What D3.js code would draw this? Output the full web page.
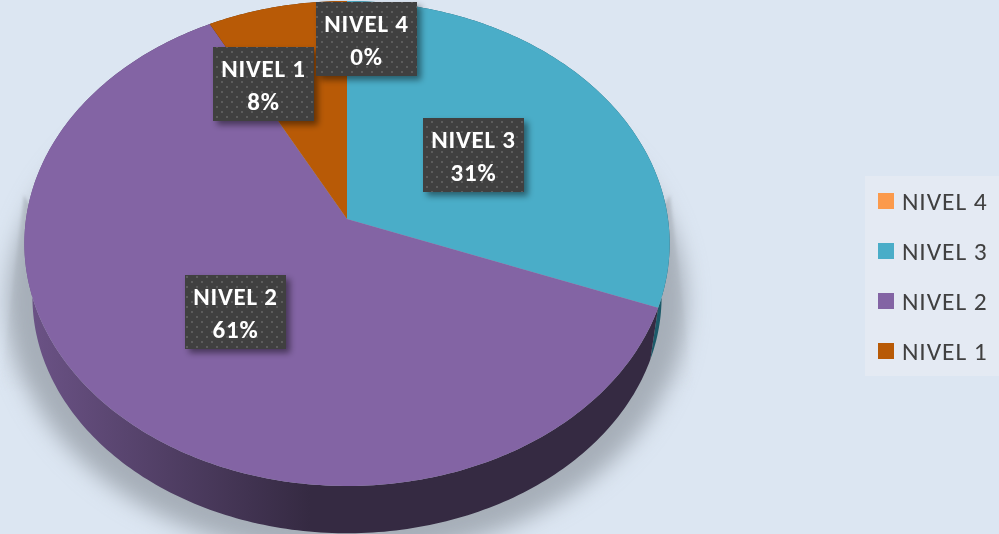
<!DOCTYPE html>
<html><head><meta charset="utf-8">
<script src="https://cdn.jsdelivr.net/npm/d3@7"></script>
<style>html,body{margin:0;padding:0;background:#dce6f2;overflow:hidden}svg{display:block}text{font-family:Carlito,Lato,sans-serif}</style>
</head><body><div id="c"></div>
<script>
const categories = ["NIVEL 1","NIVEL 2","NIVEL 3","NIVEL 4"];
const values = [7.71,61.49,30.8,0];
const legendOrder = ["NIVEL 4","NIVEL 3","NIVEL 2","NIVEL 1"];
const colors = ["#b85a06","#8364a4","#4aadc8","#fb9a4c"];
const wallColors = ["#5e3208","#352a42","#1c5a69","#8a5020"];
const labelAnchors = [[263.5,84],[235.5,312],[473.5,155],[366.5,39]];

const W=999,H=534;
const svg=d3.select("#c").append("svg").attr("width",W).attr("height",H);
const defs=svg.append("defs");
svg.append("rect").attr("width",W).attr("height",H).attr("fill","#dce6f2");

const color=d3.scaleOrdinal(categories,colors);
const wall=d3.scaleOrdinal(categories,wallColors);
const total=d3.sum(values);
const pie=d3.pie().value(d=>d.v).sort(null);
const arcs=pie(categories.map((c,i)=>({c,v:values[i]})).reverse());

const cx=347,cy=219,rx=321,ry=240,k=-0.101;
function proj(a,r=1,s=1,dy=0){
  const u=Math.sin(a)*r,v=-Math.cos(a)*r,w=1+k*v;
  return [cx+s*rx*u/w, cy+dy+s*ry*v/w];
}
const line=d3.line();
const samples=(a0,a1,f)=>{const n=Math.max(2,Math.ceil(Math.abs(a1-a0)*60));
  return d3.range(n+1).map(i=>f(a0+(a1-a0)*i/n));};

// shadow
const fs=defs.append("filter").attr("id","blur").attr("x","-20%").attr("y","-20%").attr("width","140%").attr("height","140%");
fs.append("feGaussianBlur").attr("stdDeviation",11);
const fw=defs.append("filter").attr("id","blur2").attr("x","-50%").attr("y","-20%").attr("width","200%").attr("height","140%");
fw.append("feGaussianBlur").attr("stdDeviation",1.5);
const sh=svg.append("g");
const lg=defs.append("linearGradient").attr("id","wedgeL").attr("gradientUnits","userSpaceOnUse").attr("x1",0).attr("x2",36).attr("y1",0).attr("y2",0);
lg.append("stop").attr("offset",0).attr("stop-color","#d4dde7").attr("stop-opacity",.5);
lg.append("stop").attr("offset",1).attr("stop-color","#a9b1ba");
const rg=defs.append("linearGradient").attr("id","wedgeR").attr("gradientUnits","userSpaceOnUse").attr("x1",692).attr("x2",658).attr("y1",0).attr("y2",0);
rg.append("stop").attr("offset",0).attr("stop-color","#d4dde7").attr("stop-opacity",.5);
rg.append("stop").attr("offset",1).attr("stop-color","#a9b1ba");
const mg=defs.append("linearGradient").attr("id","wedgeFade").attr("gradientUnits","userSpaceOnUse").attr("x1",0).attr("x2",0).attr("y1",300).attr("y2",392);
mg.append("stop").attr("offset",0).attr("stop-color","#fff");
mg.append("stop").attr("offset",1).attr("stop-color","#000");
const mask=defs.append("mask").attr("id","wedgeMask").attr("maskUnits","userSpaceOnUse").attr("x",0).attr("y",0).attr("width",W).attr("height",H);
mask.append("rect").attr("width",W).attr("height",H).attr("fill","url(#wedgeFade)");
const wedges=sh.append("g").attr("mask","url(#wedgeMask)");
wedges.append("path").attr("d","M24,195L0,392L50,400L60,260Z").attr("fill","url(#wedgeL)").attr("filter","url(#blur2)");
wedges.append("path").attr("d","M670,195L693,392L640,400L630,260Z").attr("fill","url(#wedgeR)").attr("filter","url(#blur2)");
sh.append("path").attr("d",line(samples(0,2*Math.PI,a=>proj(a,1,1.05,58)))+"Z").attr("fill","#a6aeb8").attr("filter","url(#blur)");

const wg=defs.append("linearGradient").attr("id","wallPurple").attr("gradientUnits","userSpaceOnUse")
  .attr("x1",25).attr("x2",310).attr("y1",0).attr("y2",0);
wg.append("stop").attr("offset",0).attr("stop-color","#6c5387");
wg.append("stop").attr("offset",1).attr("stop-color","#352a42");

const S=0.975,DY=54;
const g=svg.append("g");
arcs.filter(d=>d.value>0).forEach(d=>{
  const a0=d.startAngle,a1=d.endAngle;
  const top=samples(a0,a1,a=>proj(a));
  const bot=samples(a1,a0,a=>proj(a,1,S,DY));
  g.append("path").attr("d",line(top.concat(bot))+"Z")
   .attr("fill",d.data.c==="NIVEL 2"?"url(#wallPurple)":wall(d.data.c));
});
arcs.filter(d=>d.value>0).forEach(d=>{
  const pts=[[cx,cy]].concat(samples(d.startAngle,d.endAngle,a=>proj(a)));
  g.append("path").attr("d",line(pts)+"Z").attr("fill",color(d.data.c));
});

const pat=defs.append("pattern").attr("id","dots").attr("width",10).attr("height",10).attr("patternUnits","userSpaceOnUse");
pat.append("rect").attr("width",10).attr("height",10).attr("fill","#404040");
[[1,1],[6,6]].forEach(p=>pat.append("rect").attr("x",p[0]).attr("y",p[1]).attr("width",2).attr("height",2).attr("fill","#5c5c5c"));
const fl=defs.append("filter").attr("id","ds").attr("x","-20%").attr("y","-20%").attr("width","150%").attr("height","150%");
fl.append("feDropShadow").attr("dx",4).attr("dy",4).attr("stdDeviation",3).attr("flood-color","#000").attr("flood-opacity",.45);
const bw=101,bh=74;
categories.forEach((c,i)=>{
  const [x,y]=labelAnchors[i];
  const l=svg.append("g");
  l.append("rect").attr("x",x-bw/2).attr("y",y-bh/2).attr("width",bw).attr("height",bh).attr("fill","url(#dots)").attr("filter","url(#ds)");
  l.append("text").attr("x",x).attr("y",y-7).attr("text-anchor","middle").attr("font-weight",700).attr("font-size",25).attr("letter-spacing",.8).attr("fill","#fff").text(c);
  l.append("text").attr("x",x).attr("y",y+26).attr("text-anchor","middle").attr("font-weight",700).attr("font-size",25).attr("letter-spacing",.8).attr("fill","#fff").text(d3.format(".0%")(values[i]/total));
});

const leg=svg.append("g");
leg.append("rect").attr("x",865).attr("y",176).attr("width",134).attr("height",200).attr("fill","#e4eaf3");
const ly=d3.scalePoint(legendOrder,[201,351]);
legendOrder.forEach(c=>{
  leg.append("rect").attr("x",878).attr("y",ly(c)-8).attr("width",16).attr("height",16).attr("fill",color(c));
  leg.append("text").attr("x",902).attr("y",ly(c)+9).attr("font-size",25.5).attr("letter-spacing",.9).attr("fill","#404040").text(c);
});
</script></body></html>
